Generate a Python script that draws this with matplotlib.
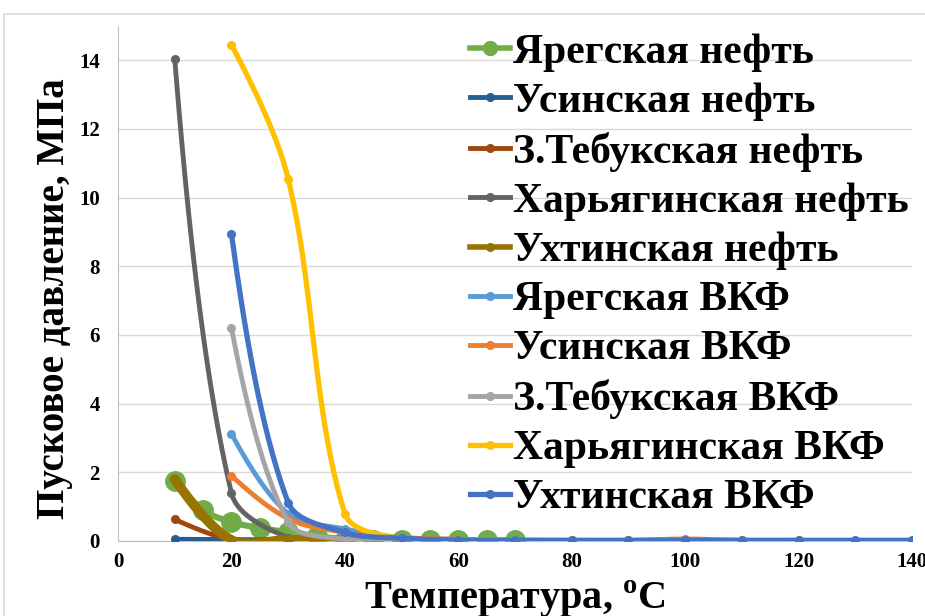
import numpy as np
import matplotlib.pyplot as plt
from matplotlib.patches import Rectangle

plt.rcParams['font.family'] = ['Liberation Serif', 'DejaVu Serif']
plt.rcParams['font.weight'] = 'bold'
plt.rcParams['axes.labelweight'] = 'bold'
plt.rcParams['mathtext.fontset'] = 'custom'
plt.rcParams['mathtext.bf'] = 'Liberation Serif:bold'
plt.rcParams['mathtext.rm'] = 'Liberation Serif:bold'

# ---- data: temperature (°C) and starting pressure (MPa) ----
yareg_oil_x = [10, 15, 20, 25, 30, 35, 40, 45, 50, 55, 60, 65, 70]
yareg_oil_y = [1.75, 0.9, 0.55, 0.38, 0.25, 0.15, 0.04, 0.03, 0.02, 0.02, 0.02, 0.02, 0.02]

usinsk_oil_x = [10, 20, 30, 40, 50]
usinsk_oil_y = [0.05, 0.04, 0.03, 0.02, 0.02]

ztebuk_oil_x = [10, 20, 30, 40]
ztebuk_oil_y = [0.63, 0.04, 0.02, 0.02]

kharyaga_oil_x = [10, 20, 30, 40]
kharyaga_oil_y = [14.05, 1.4, 0.1, 0.05]

ukhta_oil_x = [10, 20, 30, 40]
ukhta_oil_y = [1.8, 0.03, 0.03, 0.02]

yareg_vkf_x = [20, 30, 40, 50, 60, 70]
yareg_vkf_y = [3.12, 0.8, 0.35, 0.1, 0.05, 0.03]

usinsk_vkf_x = [20, 30, 40, 50, 60, 70, 80, 90, 100, 110, 120]
usinsk_vkf_y = [1.9, 0.65, 0.25, 0.1, 0.05, 0.03, 0.02, 0.02, 0.06, 0.02, 0.02]

ztebuk_vkf_x = [20, 30, 40, 50, 60]
ztebuk_vkf_y = [6.2, 0.55, 0.05, 0.03, 0.02]

kharyaga_vkf_x = [20, 30, 40, 50, 60, 70]
kharyaga_vkf_y = [14.46, 10.55, 0.8, 0.05, 0.03, 0.02]

ukhta_vkf_x = [20, 30, 40, 50, 60, 70, 80, 90, 100, 110, 120, 130, 140]
ukhta_vkf_y = [8.95, 1.12, 0.25, 0.08, 0.03, 0.02, 0.02, 0.02, 0.02, 0.02, 0.02, 0.02, 0.02]

# rough pixel scale of the plot area, used only for the smoothing weights
SX, SY = 794 / 140, 515 / 15


def smooth(x, y, n=40):
    # Excel-like smoothed line: bezier segments, tangents weighted by
    # on-screen segment lengths so short segments don't overshoot
    p = np.column_stack([np.asarray(x, float) * SX, np.asarray(y, float) * SY])
    m = len(p)
    if m < 3:
        return np.asarray(x, float), np.asarray(y, float)
    cin = p.copy()
    cout = p.copy()
    for i in range(1, m - 1):
        d1 = np.hypot(*(p[i] - p[i - 1]))
        d2 = np.hypot(*(p[i + 1] - p[i]))
        tg = p[i + 1] - p[i - 1]
        cout[i] = p[i] + tg * d2 / (d1 + d2) / 3
        cin[i] = p[i] - tg * d1 / (d1 + d2) / 3
    cout[0] = p[0] + (cin[1] - p[0]) / 3
    cin[-1] = p[-1] + (cout[-2] - p[-1]) / 3
    t = np.linspace(0, 1, n)[:, None]
    segs = []
    for i in range(m - 1):
        b = (1 - t) ** 3 * p[i] + 3 * (1 - t) ** 2 * t * cout[i] \
            + 3 * (1 - t) * t ** 2 * cin[i + 1] + t ** 3 * p[i + 1]
        segs.append(b)
    b = np.vstack(segs)
    return b[:, 0] / SX, b[:, 1] / SY


series = [
    ("Ярегская нефть", yareg_oil_x, yareg_oil_y, "#70AD47", 4.5, 14),
    ("Усинская нефть", usinsk_oil_x, usinsk_oil_y, "#255E91", 3.5, 5.5),
    ("З.Тебукская нефть", ztebuk_oil_x, ztebuk_oil_y, "#9E480E", 3.5, 5.5),
    ("Харьягинская нефть", kharyaga_oil_x, kharyaga_oil_y, "#636363", 3.5, 5.5),
    ("Ухтинская нефть", ukhta_oil_x, ukhta_oil_y, "#997300", 7.0, 5.5),
    ("Ярегская ВКФ", yareg_vkf_x, yareg_vkf_y, "#5B9BD5", 3.5, 5.5),
    ("Усинская ВКФ", usinsk_vkf_x, usinsk_vkf_y, "#ED7D31", 3.5, 5.5),
    ("З.Тебукская ВКФ", ztebuk_vkf_x, ztebuk_vkf_y, "#A5A5A5", 3.5, 5.5),
    ("Харьягинская ВКФ", kharyaga_vkf_x, kharyaga_vkf_y, "#FFC000", 3.8, 5.5),
    ("Ухтинская ВКФ", ukhta_vkf_x, ukhta_vkf_y, "#4472C4", 3.8, 5.5),
]

fig = plt.figure(figsize=(9.25, 6.16), dpi=100)
ax = fig.add_axes([118 / 925, 75 / 616, 794 / 925, 515 / 616])

for label, xs, ys, col, lw, ms in series:
    sx, sy = smooth(xs, ys)
    ax.plot(sx, sy, color=col, lw=lw, solid_capstyle='round', zorder=3)
    ax.plot(xs, ys, ls='none', marker='o', ms=ms, color=col, mec=col, zorder=3)
    ax.plot([], [], color=col, lw=min(lw, 4.0), marker='o', ms=min(ms, 10), label=label)

ax.set_xlim(0, 140)
ax.set_ylim(0, 15)
ax.set_xticks(np.arange(0, 141, 20))
ax.set_yticks(np.arange(0, 15, 2))
ax.tick_params(length=0, labelsize=15)
ax.tick_params(axis='y', pad=13)
ax.tick_params(axis='x', pad=8)
ax.grid(axis='y', color='#d9d9d9', lw=1)
ax.set_axisbelow(True)
for s in ['top', 'right']:
    ax.spines[s].set_visible(False)
for s in ['left', 'bottom']:
    ax.spines[s].set_color('#bfbfbf')

ax.set_ylabel("Пусковое давление, МПа", fontsize=28, va='center')
ax.yaxis.set_label_coords(-0.08, 0.47)
ax.set_xlabel(r"Температура, $^{\mathbf{o}}$C", fontsize=29, va='center')
ax.xaxis.set_label_coords(0.5, -0.112)

ax.legend(loc='upper left', bbox_to_anchor=(470 / 925, 1 - 33 / 616),
          bbox_transform=fig.transFigure, frameon=False, fontsize=30,
          handlelength=0.95, handletextpad=0.08, labelspacing=0.26,
          borderpad=0, borderaxespad=0)

fig.patches.append(Rectangle((4 / 925, -0.1), 1.2, 1.1 - 14 / 616,
                             transform=fig.transFigure, fill=False,
                             ec='#d9d9d9', lw=1.2))

fig.savefig("out.png", dpi=100)
